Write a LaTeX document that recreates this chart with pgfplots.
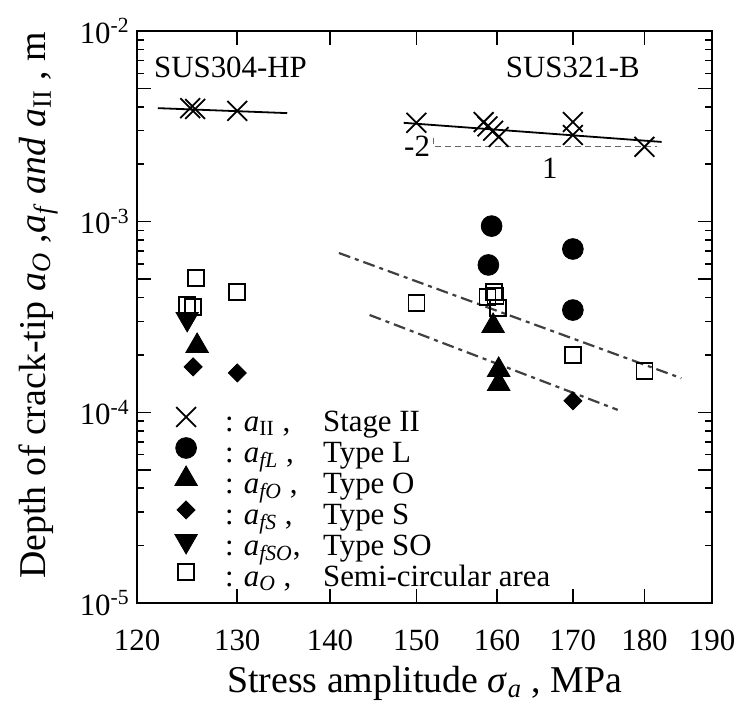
\documentclass[border=0pt]{standalone}
\usepackage{fontspec}
\setmainfont{Liberation Serif}
\usepackage{pgfplots}
\pgfplotsset{compat=1.18}

\newcommand{\sub}[2]{\textit{#1}\textsubscript{\textit{#2}}}
\newcommand{\lgd}[2]{\hspace{9bp}\makebox[49bp][l]{: #1}#2}

\begin{document}
\begin{tikzpicture}
\begin{axis}[
    scale only axis,
    width=287.5bp, height=286bp,
    xmode=log, ymode=log,
    xmin=120, xmax=190, ymin=1e-5, ymax=1e-2,
    xtick={120,130,140,150,160,170,180,190},
    xticklabels={120,130,140,150,160,170,180,190},
    minor xtick={},
    ytick={1e-5,1e-4,1e-3,1e-2},
    yticklabels={10\textsuperscript{-5},10\textsuperscript{-4},10\textsuperscript{-3},10\textsuperscript{-2}},
    minor ytick={2e-5,3e-5,4e-5,6e-5,7e-5,8e-5,9e-5,
                 2e-4,3e-4,4e-4,6e-4,7e-4,8e-4,9e-4,
                 2e-3,3e-3,4e-3,6e-3,7e-3,8e-3,9e-3},
    extra y ticks={5e-5,5e-4,5e-3},
    extra y tick labels={},
    major tick length=7bp, minor tick length=3.5bp,
    axis line style={line width=1bp},
    tick style={line width=0.8bp, black},
    ticklabel style={font=\fontsize{15.5}{17}\selectfont},
    xticklabel style={anchor=center, yshift=-18.5bp},
    yticklabel style={anchor=east, inner sep=0pt, xshift=-3.5bp},
    xlabel={Stress amplitude \textit{σ}\textsubscript{\textit{a}} , MPa},
    ylabel={Depth of crack-tip \sub{a}{O} ,\sub{a}{f} \textit{and} \textit{a}\textsubscript{II} , m},
    every axis x label/.style={at={(axis description cs:0.5,0)}, anchor=center, yshift=-40bp,
        font=\fontsize{19}{21}\selectfont},
    every axis y label/.style={at={(axis description cs:-0.172,0.52)}, anchor=center, rotate=90,
        font=\fontsize{19}{21}\selectfont},
    clip=false,
    legend image code/.code={%
        \path[draw=none, fill=none] (0cm,0cm) rectangle (0.6cm,0.1bp);
        \draw[#1, overlay] plot coordinates {(0.3cm,4bp)};},
    legend style={draw=none, fill=none, inner sep=0pt,
        at={(axis description cs:0.055,0.339)}, anchor=north west,
        font=\fontsize{15.5}{17}\selectfont,
        cells={anchor=west},
        nodes={inner ysep=0pt, text height=11bp, text depth=4.5bp}},
]
% fitted lines
\addplot[black, line width=0.9bp, forget plot] coordinates {(122.0,3.94e-3) (135.3,3.71e-3)};
\addplot[black, line width=0.9bp, forget plot] coordinates {(148.5,3.30e-3) (182.5,2.62e-3)};
\addplot[black!75, line width=1.1bp, dash pattern=on 6bp off 2.5bp on 2bp off 2.5bp, forget plot]
    coordinates {(141.0,6.85e-4) (185.4,1.51e-4)};
\addplot[black!75, line width=1.1bp, dash pattern=on 6bp off 2.5bp on 2bp off 2.5bp, forget plot]
    coordinates {(144.5,3.24e-4) (176.2,1.03e-4)};
% slope triangle
\addplot[black!60, line width=0.6bp, dash pattern=on 3bp off 2bp, forget plot]
    coordinates {(152.1,2.75e-3) (152.1,2.47e-3) (181.8,2.47e-3)};

% stage II
\addplot[only marks, mark=x, mark size=7bp, mark options={line width=0.9bp, black}] coordinates {
    (125.2,3.94e-3) (125.7,3.90e-3) (130,3.81e-3)
    (150,3.30e-3) (158.3,3.33e-3) (158.8,3.16e-3) (159.5,3.00e-3) (160.2,2.78e-3)
    (170,3.33e-3) (170,2.85e-3) (180,2.47e-3)
};
% type L
\addplot[only marks, mark=*, mark size=5.2bp, mark options={black, fill=black}] coordinates {
    (159.3,9.48e-4) (158.9,5.93e-4) (170,7.19e-4) (170,3.44e-4)
};
% type O
\addplot[only marks, mark=triangle*, mark size=6.5bp, mark options={black, fill=black}] coordinates {
    (125.9,2.23e-4) (159.5,2.84e-4) (160.2,1.67e-4) (160.2,1.41e-4)
};
% type S
\addplot[only marks, mark=square*, mark size=3.2bp, mark options={black, fill=black, rotate=45}] coordinates {
    (125.5,1.73e-4) (130,1.61e-4) (170,1.15e-4)
};
% type SO
\addplot[only marks, mark=triangle*, mark size=6.5bp, mark options={black, fill=black, rotate=180}] coordinates {
    (124.9,3.09e-4)
};
% semi-circular area
\addplot[only marks, mark=square, mark size=4bp, mark options={black, line width=0.8bp, fill=white}] coordinates {
    (125.8,5.07e-4) (124.9,3.66e-4) (125.5,3.57e-4) (130,4.28e-4)
    (150,3.75e-4) (159.6,4.28e-4) (158.8,4.03e-4) (159.8,4.07e-4) (160.1,3.53e-4)
    (170,2.00e-4) (180,1.65e-4)
};
\legend{\lgd{\textit{a}\textsubscript{II} ,}{Stage II},
        \lgd{\sub{a}{fL} ,}{Type L},
        \lgd{\sub{a}{fO} ,}{Type O},
        \lgd{\sub{a}{fS} ,}{Type S},
        \lgd{\sub{a}{fSO},}{Type SO},
        \lgd{\sub{a}{O} ,}{Semi-circular area}}

\node[font=\fontsize{15.5}{17}\selectfont] at (axis cs:129.3,6.48e-3) {SUS304-HP};
\node[font=\fontsize{15.5}{17}\selectfont] at (axis cs:170,6.48e-3) {SUS321-B};
\node[font=\fontsize{15.5}{17}\selectfont] at (axis cs:150.1,2.48e-3) {-2};
\node[font=\fontsize{15.5}{17}\selectfont] at (axis cs:166.9,1.91e-3) {1};

\coordinate (ll) at (rel axis cs:0,0);
\coordinate (ur) at (rel axis cs:1,1);
\end{axis}
\pgfresetboundingbox
\path[use as bounding box] ([shift={(-68.5bp,-52.5bp)}]ll) rectangle ([shift={(12bp,15.5bp)}]ur);
\end{tikzpicture}
\end{document}
